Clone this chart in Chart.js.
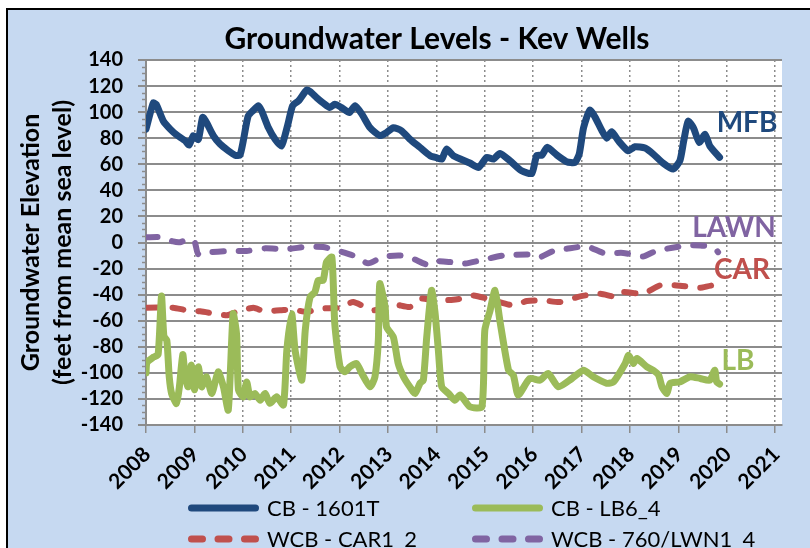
<!DOCTYPE html>
<html>
<head>
<meta charset="utf-8">
<script src="https://cdn.jsdelivr.net/npm/chart.js@4.4.1/dist/chart.umd.min.js"></script>
<style>
  html, body { margin: 0; padding: 0; background: #fff; }
</style>
</head>
<body>
<canvas id="levels" width="810" height="548"></canvas>
<script>
const chartTitle = "Groundwater Levels - Kev Wells";
const axisTitle = ["Groundwater Elevation", "(feet from mean sea level)"];
const yearTicks = [2008, 2009, 2010, 2011, 2012, 2013, 2014, 2015, 2016, 2017, 2018, 2019, 2020, 2021];
const seriesNames = ["CB - 1601T", "CB - LB6_4", "WCB - CAR1_2", "WCB - 760/LWN1_4"];
const wellTags = ["MFB", "LB", "CAR", "LAWN"];

// CB - 1601T (MFB)
const mfbYears = [2008.0, 2008.15, 2008.21, 2008.36, 2008.5, 2008.63, 2008.81, 2008.89, 2008.98, 2009.08,
  2009.17, 2009.25, 2009.39, 2009.53, 2009.7, 2009.84, 2009.94, 2010.01, 2010.11, 2010.22,
  2010.32, 2010.39, 2010.53, 2010.67, 2010.8, 2010.87, 2010.94, 2011.03, 2011.15, 2011.32,
  2011.39, 2011.53, 2011.66, 2011.8, 2011.9, 2012.04, 2012.2, 2012.32, 2012.46, 2012.63,
  2012.83, 2012.97, 2013.11, 2013.28, 2013.45, 2013.66, 2013.87, 2014.01, 2014.11, 2014.21,
  2014.35, 2014.69, 2014.87, 2015.04, 2015.18, 2015.31, 2015.52, 2015.76, 2015.97, 2016.07,
  2016.18, 2016.29, 2016.49, 2016.69, 2016.86, 2016.95, 2017.04, 2017.17, 2017.28, 2017.42,
  2017.52, 2017.62, 2017.76, 2017.96, 2018.1, 2018.31, 2018.48, 2018.69, 2018.89, 2019.03,
  2019.11, 2019.2, 2019.31, 2019.43, 2019.55, 2019.65, 2019.85];
const mfbLevels = [87, 107, 106, 93, 87, 82.6, 78, 74.7, 82, 79,
  96, 92, 82, 75.5, 70.4, 67, 67, 78, 97, 101.5,
  105, 101, 88, 79, 74, 82, 92, 105, 108.6, 117,
  115.8, 111, 107, 103.5, 106, 103.5, 99.7, 105, 98.5, 88,
  82, 84.4, 88, 85.7, 79.3, 73, 66.6, 65, 64, 71.7,
  66.6, 61, 57.6, 65.3, 64, 68.3, 62.7, 55, 53, 66.6,
  67, 73, 67, 62, 61.4, 67.8, 88, 101.5, 96, 85.7,
  80, 85, 78, 70.4, 73.4, 72.4, 67.8, 60.7, 56.4, 62.7,
  78, 93, 88, 76.7, 83, 74, 65.3];

// CB - LB6_4 (LB)
const lbYears = [2008.0, 2008.02, 2008.15, 2008.25, 2008.32, 2008.37, 2008.43, 2008.48, 2008.53, 2008.63,
  2008.69, 2008.76, 2008.81, 2008.87, 2008.94, 2009.0, 2009.08, 2009.15, 2009.25, 2009.36,
  2009.49, 2009.6, 2009.7, 2009.8, 2009.87, 2009.91, 2010.01, 2010.08, 2010.15, 2010.25,
  2010.36, 2010.46, 2010.56, 2010.7, 2010.84, 2010.91, 2011.01, 2011.08, 2011.22, 2011.29,
  2011.39, 2011.49, 2011.56, 2011.66, 2011.73, 2011.84, 2011.9, 2012.01, 2012.11, 2012.21,
  2012.35, 2012.46, 2012.63, 2012.73, 2012.8, 2012.83, 2012.94, 2012.97, 2013.11, 2013.21,
  2013.32, 2013.45, 2013.56, 2013.66, 2013.73, 2013.8, 2013.9, 2013.97, 2014.04, 2014.11,
  2014.25, 2014.38, 2014.49, 2014.69, 2014.94, 2015.0, 2015.11, 2015.21, 2015.31, 2015.49,
  2015.59, 2015.69, 2015.93, 2016.14, 2016.31, 2016.52, 2016.8, 2017.04, 2017.24, 2017.52,
  2017.66, 2017.9, 2017.97, 2018.07, 2018.14, 2018.35, 2018.48, 2018.59, 2018.66, 2018.76,
  2018.83, 2019.03, 2019.24, 2019.45, 2019.65, 2019.75, 2019.79, 2019.85];
const lbLevels = [-100, -92, -88, -86, -41, -72, -75, -103, -116, -123.5,
  -110.7, -86, -103, -110.7, -94, -113, -95.4, -110.7, -103, -115.8,
  -99.2, -110.7, -128.5, -54.6, -70, -113, -118.4, -107, -118.4, -115.8,
  -121, -115.8, -123.4, -118.4, -124.7, -82.6, -54.6, -82.6, -105.6, -67.3,
  -41.8, -38, -29, -29, -15, -11.2, -62.2, -95.4, -99.2, -95.4,
  -92.8, -100.5, -110.7, -103, -75, -31.6, -49.5, -64.8, -72.5, -92.8,
  -103, -110.7, -115.8, -108, -105.6, -72.5, -36.7, -53.3, -82.6, -110.7,
  -115.8, -121, -117, -126, -126, -67.3, -52, -36.7, -59.7, -98,
  -101.8, -117, -104.3, -105.6, -100.5, -110.7, -104.3, -98, -103, -108,
  -106.9, -92.8, -86.5, -92.8, -89, -95.4, -98, -101.8, -110.7, -115.8,
  -108, -106.9, -103, -104.3, -105.6, -98, -106.9, -108.6];

// WCB - CAR1_2 (CAR)
const carYears = [2008.01, 2008.56, 2008.84, 2009.12, 2009.67, 2009.87, 2010.22, 2010.42, 2010.77, 2011.04,
  2011.32, 2011.6, 2012.01, 2012.28, 2012.7, 2013.11, 2013.45, 2013.66, 2013.94, 2014.35,
  2014.63, 2014.76, 2015.18, 2015.59, 2015.87, 2016.21, 2016.55, 2016.97, 2017.38, 2017.73,
  2017.86, 2018.27, 2018.62, 2018.96, 2019.45, 2019.73, 2019.86];
const carLevels = [-50, -50, -52, -52.8, -55.8, -53.3, -50, -52.5, -52, -51.5,
  -53.3, -50.7, -50, -45.7, -52, -47.4, -49.5, -43, -44.4, -43.9,
  -42.3, -40.6, -44.4, -48.2, -44.9, -44.4, -45.7, -41.3, -39.3, -41.8,
  -38, -39.3, -32.9, -32.9, -34.7, -32.9, -36.7];

// WCB - 760/LWN1_4 (LAWN)
const lawnYears = [2008.01, 2008.32, 2008.56, 2008.7, 2008.91, 2009.01, 2009.08, 2009.32, 2009.74, 2010.08,
  2010.46, 2010.91, 2011.32, 2011.66, 2011.94, 2012.28, 2012.59, 2012.9, 2013.25, 2013.52,
  2013.8, 2013.97, 2014.28, 2014.56, 2014.9, 2015.38, 2015.93, 2016.14, 2016.41, 2016.69,
  2017.11, 2017.45, 2017.86, 2018.27, 2018.48, 2018.76, 2019.17, 2019.45, 2019.73, 2019.82];
const lawnLevels = [4, 4, 0.8, 0.2, 2.8, 0, -9, -7.5, -6.5, -6.5,
  -4.5, -5, -3.3, -3.5, -6, -10, -16, -11, -10, -12.5,
  -16.8, -14.3, -15, -16.3, -13.8, -10, -9.2, -11.2, -6.6, -4.8,
  -3, -8, -8, -10.7, -7.4, -4.8, -2.3, -2.3, -3.6, -7.4];

const FONT = "Lato, 'Liberation Sans', sans-serif";
const BLUE = "#1f497d", GREEN = "#9bbb59", RED = "#c0504d", PURPLE = "#8064a2";
const GRID = "#8c8c8c";

function points(xs, ys) {
  return xs.map((x, i) => ({ x, y: ys[i] }));
}

const frame = {
  id: "frame",
  beforeDraw(chart) {
    const { ctx, chartArea: a } = chart;
    ctx.save();
    ctx.fillStyle = "#ffffff";
    ctx.fillRect(0, 0, chart.width, chart.height);
    ctx.fillStyle = "#c6d9f1";
    ctx.fillRect(8, 10, chart.width - 8, chart.height - 10);
    ctx.fillStyle = "#000000";
    ctx.fillRect(6, 8, 2, chart.height - 8);
    ctx.fillRect(6, 8, chart.width - 6, 2);
    ctx.fillStyle = "#ffffff";
    ctx.fillRect(a.left, a.top, a.right - a.left, a.bottom - a.top);
    ctx.fillStyle = "#000000";
    ctx.font = "bold 30px " + FONT;
    ctx.textAlign = "center";
    ctx.textBaseline = "middle";
    ctx.fillText(chartTitle, 437, 39);
    ctx.restore();
  },
  afterDraw(chart) {
    const { ctx } = chart;
    const y = chart.scales.y;
    ctx.save();
    ctx.strokeStyle = GRID;
    ctx.lineWidth = 1.5;
    for (let v = y.min; v <= y.max; v += 5) {
      if (v % 20 === 0) continue;
      const py = Math.round(y.getPixelForValue(v)) + 0.5;
      ctx.beginPath();
      ctx.moveTo(y.right - 4, py);
      ctx.lineTo(y.right, py);
      ctx.stroke();
    }

    // tags at the right end of each series
    const tagColors = [BLUE, GREEN, RED, PURPLE];
    const tagPos = [[747, 123], [738, 361], [742, 270], [734, 228]];
    ctx.font = "bold 28px " + FONT;
    ctx.textAlign = "center";
    ctx.textBaseline = "middle";
    wellTags.forEach((t, i) => {
      ctx.fillStyle = tagColors[i];
      ctx.fillText(t, tagPos[i][0], tagPos[i][1]);
    });

    // legend, two columns
    const slots = [[188, 509], [472, 509], [188, 540], [472, 540]];
    ctx.font = "22px " + FONT;
    ctx.textAlign = "left";
    chart.data.datasets.forEach((ds, i) => {
      const [lx, ly] = slots[i];
      ctx.strokeStyle = ds.borderColor;
      ctx.lineWidth = 7;
      ctx.lineCap = "round";
      ctx.setLineDash(ds.borderDash ? [11, 15.5] : []);
      ctx.beginPath();
      ctx.moveTo(lx + 3.5, ly - 1);
      ctx.lineTo(lx + 71 - 3.5, ly - 1);
      ctx.stroke();
      ctx.setLineDash([]);
      ctx.fillStyle = "#000000";
      ctx.fillText(ds.label, lx + 79, ly);
    });
    ctx.restore();
  }
};

new Chart(document.getElementById("levels"), {
  type: "line",
  data: {
    datasets: [
      { label: seriesNames[0], data: points(mfbYears, mfbLevels), borderColor: BLUE, borderWidth: 7 },
      { label: seriesNames[1], data: points(lbYears, lbLevels), borderColor: GREEN, borderWidth: 7 },
      { label: seriesNames[2], data: points(carYears, carLevels), borderColor: RED, borderWidth: 6, borderDash: [11, 15] },
      { label: seriesNames[3], data: points(lawnYears, lawnLevels), borderColor: PURPLE, borderWidth: 6, borderDash: [11, 15] },
    ].map((d) => ({
      ...d,
      pointRadius: 0,
      fill: false,
      tension: 0.2,
      borderCapStyle: "round",
      borderJoinStyle: "round",
    })),
  },
  options: {
    responsive: false,
    devicePixelRatio: 1,
    animation: false,
    layout: { padding: { left: 0, right: 28, top: 60, bottom: 0 } },
    plugins: { legend: { display: false }, title: { display: false }, tooltip: { enabled: false } },
    scales: {
      x: {
        type: "linear",
        min: 2008,
        max: 2021.14,
        afterBuildTicks: (s) => { s.ticks = yearTicks.map((v) => ({ value: v })); },
        afterFit: (s) => { s.height = 123; },
        grid: { color: GRID, lineWidth: 1.5, tickLength: 8, tickWidth: 1.5 },
        border: { color: GRID, width: 2, dash: [2, 3] },
        ticks: {
          autoSkip: false,
          minRotation: 45,
          maxRotation: 45,
          padding: 9,
          labelOffset: 1,
          color: "#000",
          font: { family: FONT, size: 21, weight: "bold" },
          callback: (v) => String(v),
        },
      },
      y: {
        min: -140,
        max: 140,
        afterFit: (s) => { s.width = 146; },
        grid: { color: GRID, lineWidth: 2, tickLength: 8 },
        border: { color: GRID, width: 2 },
        ticks: {
          stepSize: 20,
          autoSkip: false,
          padding: 15,
          color: "#000",
          font: { family: FONT, size: 20, weight: "bold" },
        },
        title: {
          display: true,
          text: axisTitle,
          color: "#000",
          padding: { top: 15, bottom: 0 },
          font: { family: FONT, size: 25, weight: "bold", lineHeight: 1.28 },
        },
      },
    },
  },
  plugins: [frame],
});
</script>
</body>
</html>
